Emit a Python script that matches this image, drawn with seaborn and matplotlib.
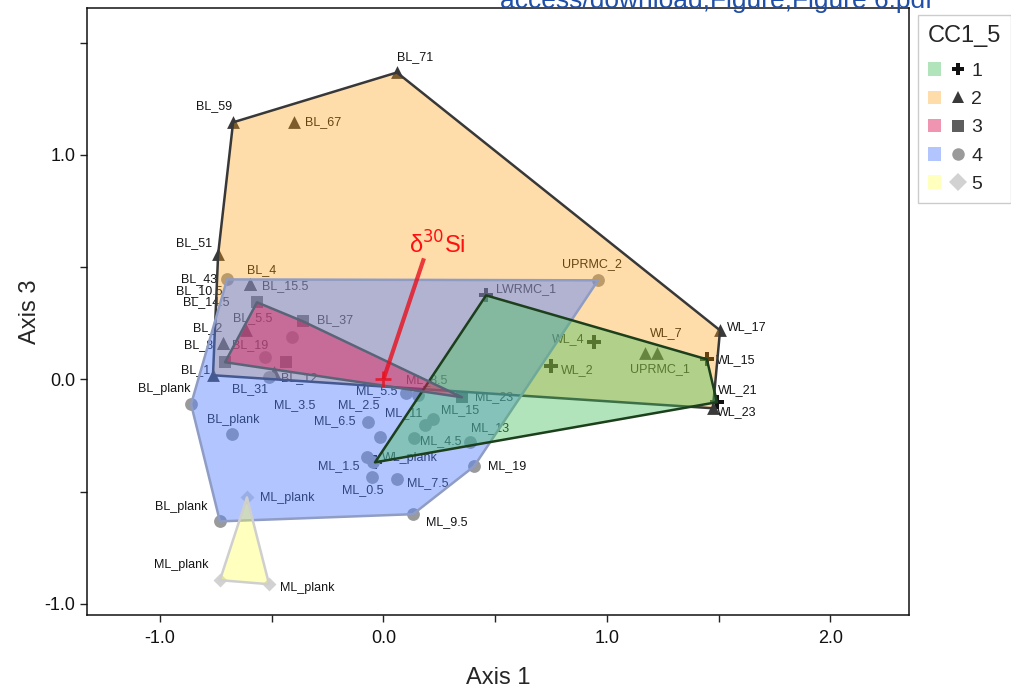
import numpy as np
import pandas as pd
import matplotlib
matplotlib.use("Agg")
import matplotlib.pyplot as plt
import seaborn as sns
from matplotlib.patches import Polygon, Patch
from matplotlib.lines import Line2D
from matplotlib.legend_handler import HandlerTuple

# ---------------- data ----------------
names = ["BL_71", "BL_59", "BL_67", "BL_51", "BL_4", "BL_15.5", "BL_10.5", "BL_5.5",
         "BL_8", "BL_2", "BL_1", "BL_12", "WL_17", "WL_23", "WL_7", "UPRMC_1",
         "BL_43", "UPRMC_2", "BL_19", "", "BL_31", "BL_plank", "BL_plank", "BL_plank",
         "ML_5.5", "ML_8.5", "ML_6.5", "ML_2.5", "ML_3.5", "ML_11", "ML_4.5", "ML_15",
         "ML_13", "ML_1.5", "ML_0.5", "ML_7.5", "ML_19", "ML_9.5",
         "BL_14.5", "BL_37", "", "", "ML_23",
         "LWRMC_1", "WL_4", "WL_2", "WL_15", "WL_21", "WL_plank",
         "ML_plank", "ML_plank", "ML_plank"]
axis1 = [0.060, -0.673, -0.400, -0.740, -0.597, -0.597, -0.597, -0.615,
         -0.718, -0.718, -0.763, -0.490, 1.506, 1.474, 1.224, 1.170,
         -0.700, 0.960, -0.530, -0.409, -0.512, -0.861, -0.678, -0.732,
         0.101, 0.154, -0.069, -0.016, -0.047, 0.136, 0.186, 0.221,
         0.387, -0.074, -0.051, 0.060, 0.405, 0.132,
         -0.566, -0.360, -0.709, -0.436, 0.351,
         0.459, 0.942, 0.749, 1.447, 1.492, -0.038,
         -0.611, -0.732, -0.512]
axis3 = [1.367, 1.145, 1.145, 0.557, 0.423, 0.423, 0.423, 0.218,
         0.160, 0.160, 0.018, 0.031, 0.218, -0.129, 0.116, 0.116,
         0.445, 0.441, 0.098, 0.187, 0.009, -0.111, -0.245, -0.633,
         -0.062, -0.071, -0.192, -0.258, -0.370, -0.263, -0.205, -0.178,
         -0.281, -0.347, -0.437, -0.445, -0.388, -0.601,
         0.343, 0.258, 0.076, 0.076, -0.080,
         0.374, 0.165, 0.058, 0.089, -0.102, -0.370,
         -0.526, -0.895, -0.913]
cc1_5 = [2] * 16 + [4] * 22 + [3] * 5 + [1] * 6 + [5] * 3

groups = [1, 2, 3, 4, 5]
vector_name = "δ$^{30}$Si"
vector_xy = (0.181, 0.539)

# ---------------- layout / style (label offsets in pixels) ----------------
label_layout = [
    (0, 15, "left"), (-1, 16, "right"), (11, 0, "left"), (-6, 11, "right"),
    (-3, 14, "left"), (12, -2, "left"), (-28, -7, "right"), (-13, 12, "left"),
    (-10, -2, "right"), (-1, 15, "right"), (-3, 5, "right"), (7, -6, "left"),
    (7, 3, "left"), (4, -4, "left"), (-7, 20, "left"), (15, -16, "center"),
    (-10, 0, "right"), (-6, 16, "center"), (-33, 12, "left"), (0, 0, "left"),
    (-37, -12, "left"), (-1, 15, "right"), (-25, 14, "left"), (-12, 14, "right"),
    (-9, 2, "right"), (-12, 15, "left"), (-13, 1, "right"), (0, 32, "right"),
    (-58, 57, "right"), (-29, 25, "left"), (-5, -16, "left"), (8, 9, "left"),
    (1, 14, "left"), (-7, -9, "right"), (-30, -13, "left"), (10, -4, "left"),
    (14, 0, "left"), (13, -8, "left"),
    (-28, 0, "right"), (14, 1, "left"), (0, 0, "left"), (0, 0, "left"), (13, 0, "left"),
    (10, 6, "left"), (-9, 3, "right"), (10, -4, "left"), (9, -1, "left"),
    (1, 12, "left"), (7, 4, "left"),
    (13, -1, "left"), (-11, 15, "right"), (11, -4, "left"),
]

point_colors = {1: "#111111", 2: "#3a3a3a", 3: "#5e5e5e", 4: "#9a9a9a", 5: "#d2d2d2"}
markers = {1: "P", 2: "^", 3: "s", 4: "o", 5: "D"}
marker_sizes = {1: 95, 2: 85, 3: 80, 4: 85, 5: 50}
fill_colors = {1: (0.27, 0.75, 0.36, 0.42), 2: (1.0, 0.62, 0.06, 0.35),
               3: (0.87, 0.12, 0.36, 0.48), 4: (0.33, 0.50, 1.0, 0.45),
               5: (1.0, 1.0, 0.31, 0.37)}
edge_colors = {1: "#1c3f1c", 2: "#383838", 3: "#5a6478", 4: "#8f9cc4", 5: "#cfcfcf"}
fill_order = [2, 4, 1, 3, 5]

df = pd.DataFrame({"name": names, "Axis 1": axis1, "Axis 3": axis3, "CC1_5": cc1_5})

sns.set_style("ticks")
plt.rcParams["font.family"] = ["Liberation Sans", "DejaVu Sans"]

fig = plt.figure(figsize=(10.11, 6.92), dpi=100)
ax = fig.add_axes([0.086, 0.111, 0.813, 0.877])

for g in groups:
    sub = df[df["CC1_5"] == g]
    sns.scatterplot(data=sub, x="Axis 1", y="Axis 3", marker=markers[g],
                    color=point_colors[g], s=marker_sizes[g], linewidth=0,
                    ax=ax, zorder=2, legend=False)

for i, row in df.iterrows():
    if not row["name"]:
        continue
    dx, dy, ha = label_layout[i]
    ax.annotate(row["name"], (row["Axis 1"], row["Axis 3"]), xytext=(dx, dy),
                textcoords="offset pixels", ha=ha, va="center", fontsize=9,
                color="#151515", zorder=2)


def convex_hull(pts):
    pts = sorted(set(map(tuple, pts)))
    if len(pts) < 3:
        return pts

    def cross(o, a, b):
        return (a[0] - o[0]) * (b[1] - o[1]) - (a[1] - o[1]) * (b[0] - o[0])

    lower, upper = [], []
    for p in pts:
        while len(lower) >= 2 and cross(lower[-2], lower[-1], p) <= 0:
            lower.pop()
        lower.append(p)
    for p in reversed(pts):
        while len(upper) >= 2 and cross(upper[-2], upper[-1], p) <= 0:
            upper.pop()
        upper.append(p)
    return lower[:-1] + upper[:-1]


for k, g in enumerate(fill_order):
    sub = df[df["CC1_5"] == g]
    hull = convex_hull(sub[["Axis 1", "Axis 3"]].values)
    ax.add_patch(Polygon(hull, closed=True, facecolor=fill_colors[g],
                         edgecolor=edge_colors[g], lw=1.8, zorder=3 + k,
                         joinstyle="round"))

# vector (biplot arrow)
ax.plot([0, vector_xy[0]], [0, vector_xy[1]], color="#e8101e", lw=3, zorder=9,
        alpha=0.8, solid_capstyle="butt")
ax.plot([0], [0], marker="+", color="#e8101e", ms=11, mew=2, zorder=9, alpha=0.8)
ax.annotate(vector_name, vector_xy, xytext=(13, 13), textcoords="offset pixels",
            ha="center", va="center", fontsize=17, color="#ff1010", zorder=10)

ax.set_xlim(-1.327, 2.351)
ax.set_ylim(-1.051, 1.653)
ticks_x = np.arange(-1.0, 2.01, 0.5)
ticks_y = np.arange(-1.0, 1.51, 0.5)
ax.set_xticks(ticks_x)
ax.set_yticks(ticks_y)
ax.set_xticklabels([f"{t:.1f}" if abs(t - round(t)) < 1e-9 else "" for t in ticks_x])
ax.set_yticklabels([f"{t:.1f}" if abs(t - round(t)) < 1e-9 else "" for t in ticks_y])
ax.tick_params(direction="out", length=5, width=1, labelsize=13, color="#222222",
               labelcolor="#111111")
ax.tick_params(axis="x", pad=6)
for s in ax.spines.values():
    s.set_color("#111111")
    s.set_linewidth(1.1)
ax.set_xlabel("Axis 1", fontsize=17, labelpad=14)
ax.set_ylabel("Axis 3", fontsize=17, labelpad=2)

handles = [(Patch(facecolor=fill_colors[g], edgecolor="none"),
            Line2D([], [], marker=markers[g], color=point_colors[g], ls="",
                   markersize=9, markeredgewidth=0)) for g in groups]
leg = fig.legend(handles, [str(g) for g in groups], title="CC1_5",
                 loc="upper left", bbox_to_anchor=(0.908, 0.978), borderaxespad=0,
                 handler_map={tuple: HandlerTuple(ndivide=None, pad=0.5)},
                 fontsize=14, title_fontsize=17, alignment="left",
                 handlelength=1.9, handletextpad=0.35, labelspacing=0.55,
                 frameon=True, fancybox=False, edgecolor="#cccccc", framealpha=1,
                 borderpad=0.5)
leg.get_frame().set_linewidth(1.0)
leg._legend_box.sep = 11

fig.text(0.495, 0.988, "access/download;Figure;Figure 6.pdf", color="#1f4fa8",
         fontsize=19, va="baseline", ha="left")

fig.savefig("out.png", dpi=100)
